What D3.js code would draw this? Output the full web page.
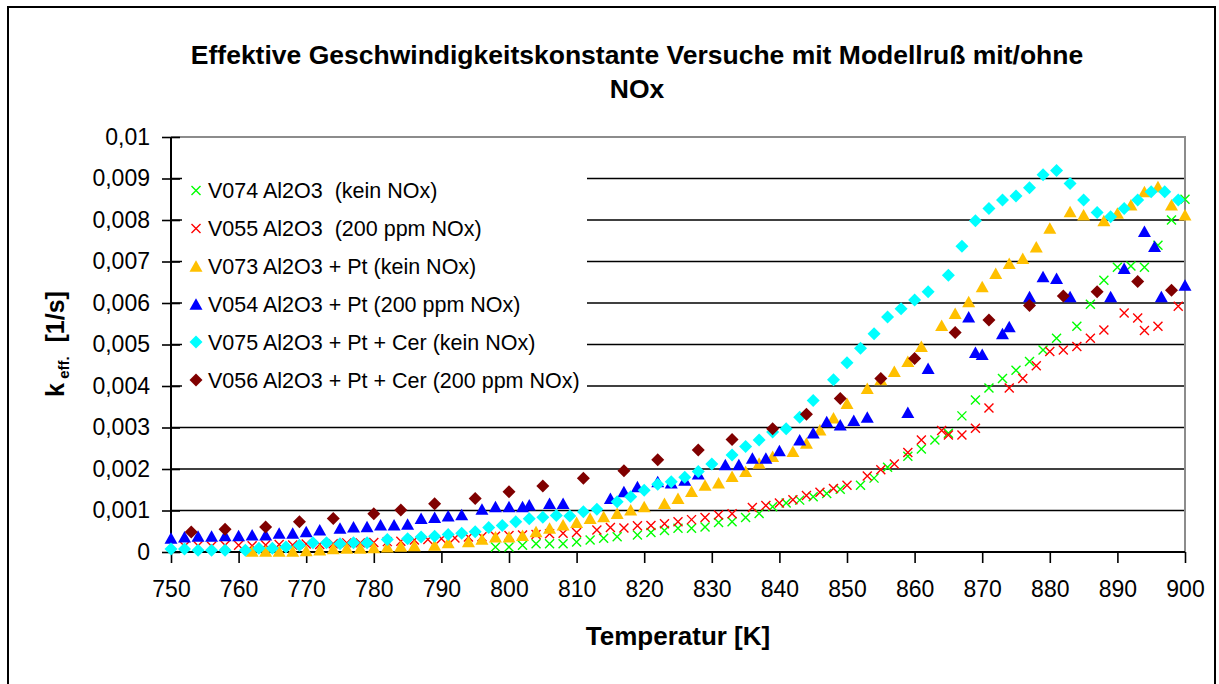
<!DOCTYPE html>
<html>
<head>
<meta charset="utf-8">
<script src="https://cdn.jsdelivr.net/npm/d3@7"></script>
<style>
  html, body { margin: 0; padding: 0; background: #fff; }
  svg { display: block; font-family: "Liberation Sans", Arial, sans-serif; }
</style>
</head>
<body>
<svg id="chart" width="1219" height="684"></svg>
<script>
// ---- data: temperature [K] and effective rate constant k_eff [1/s] per run ----
const v074T = [798,800,802,804,806,808,810,812,814,816,819,821,823,825,827,829,831,833,835,837,839,841,843,845,847,849,852,854,856,859,861,863,865,867,869,871,873,875,877,879,881,884,886,888,890,892,894,896,898,900];
const v074K = [0.00012,0.00012,0.00016,0.0002,0.0002,0.0002,0.00024,0.00029,0.00033,0.00037,0.00041,0.00047,0.00052,0.00057,0.00057,0.0006,0.00071,0.00073,0.00083,0.00093,0.00109,0.00118,0.00125,0.00133,0.00141,0.00151,0.00161,0.00178,0.00204,0.00231,0.00248,0.0027,0.00286,0.00328,0.00366,0.00395,0.00418,0.00438,0.00459,0.00487,0.00515,0.00544,0.00597,0.00655,0.00686,0.00689,0.00686,0.00739,0.008,0.0085];

const v055T = [752,754,756,758,760,762,764,766,768,770,772,774,776,778,780,782,784,786,788,790,792,794,796,798,800,802,804,806,808,810,813,815,817,819,821,823,825,827,829,831,833,836,838,840,842,844,846,848,850,853,855,857,859,861,864,865,867,869,871,874,876,878,880,882,884,886,888,891,893,894,896,899];
const v055K = [0.00014,0.00015,0.00014,0.00016,0.00016,0.00015,0.00017,0.00018,0.00017,0.00019,0.00018,0.0002,0.00022,0.00022,0.00023,0.00025,0.00026,0.00029,0.0003,0.00032,0.00034,0.00036,0.00037,0.00038,0.0004,0.00041,0.00042,0.00044,0.00045,0.00047,0.00053,0.00059,0.00058,0.00063,0.00064,0.00068,0.00073,0.00078,0.00083,0.00089,0.00092,0.00107,0.00112,0.00118,0.00126,0.00136,0.00144,0.00153,0.00161,0.00183,0.00198,0.00212,0.0024,0.0027,0.00293,0.00282,0.00282,0.00298,0.00347,0.00395,0.00418,0.00449,0.00483,0.00487,0.00495,0.00515,0.00535,0.00576,0.00564,0.00534,0.00544,0.00592];

const v073T = [762,764,766,768,770,772,774,776,778,780,782,784,786,789,791,794,796,798,800,802,804,806,808,810,812,814,816,818,820,823,825,827,829,831,833,835,837,839,842,844,846,848,850,853,855,857,859,861,864,866,868,870,872,874,876,878,880,883,885,888,890,892,894,896,898,900];
const v073K = [0.00002,0.00002,0.00002,0.00002,0.00003,0.00005,0.00008,0.00009,0.00009,0.0001,0.00012,0.00014,0.00015,0.00016,0.00022,0.00025,0.00031,0.00036,0.00036,0.0004,0.00049,0.00057,0.00065,0.00071,0.00081,0.00085,0.00093,0.00101,0.00109,0.00117,0.00129,0.00146,0.00161,0.00166,0.00182,0.00194,0.00214,0.0023,0.00242,0.00262,0.00294,0.00323,0.00358,0.00394,0.00415,0.00435,0.00459,0.00495,0.00546,0.00575,0.00603,0.00639,0.00671,0.00695,0.00707,0.00735,0.0078,0.0082,0.00812,0.00798,0.00816,0.00836,0.00868,0.0088,0.00836,0.00812];

const v054T = [750,752,754,756,758,760,762,764,766,768,770,772,775,777,779,781,783,785,787,789,791,793,796,798,800,802,803,806,808,815,817,819,822,824,826,828,832,834,836,838,840,843,845,847,849,851,853,859,862,868,869,870,873,874,877,879,881,883,889,891,894,895.5,896.5,900];
const v054K = [0.00033,0.00036,0.00038,0.00038,0.00039,0.00039,0.00041,0.00041,0.00045,0.00045,0.00049,0.00053,0.00057,0.0006,0.00061,0.00065,0.00065,0.00067,0.00081,0.00083,0.00087,0.0009,0.00103,0.00109,0.00109,0.00109,0.00113,0.00117,0.00117,0.00129,0.00145,0.00157,0.00169,0.00166,0.00173,0.00188,0.0021,0.0021,0.00226,0.00226,0.00244,0.0027,0.00287,0.00314,0.00306,0.00317,0.00325,0.00336,0.00442,0.00566,0.00481,0.00476,0.00526,0.00543,0.00615,0.00663,0.00659,0.00615,0.00615,0.00683,0.00772,0.00736,0.00615,0.00643];

const v075T = [750,752,754,756,758,761,763,765,767,769,771,773,775,777,779,782,785,787,789,791,793,795,797,799,801,803,805,807,809,811,813,816,818,820,822,824,826,828,830,833,835,837,839,841,843,845,848,850,852,854,856,858,860,862,865,867,869,871,873,875,877,879,881,883,885,887,889,891,893,895,897,899];
const v075K = [0.00007,0.00007,0.00004,0.00004,0.00004,0.00004,0.00009,0.00009,0.00012,0.00016,0.00022,0.00022,0.0002,0.00022,0.00022,0.0003,0.00032,0.00036,0.00038,0.00042,0.00045,0.00049,0.00059,0.00064,0.00073,0.0008,0.00084,0.00088,0.00087,0.00097,0.00103,0.00121,0.00133,0.00149,0.00163,0.00169,0.0018,0.00194,0.00212,0.00234,0.00254,0.0027,0.00289,0.00297,0.00325,0.00365,0.00415,0.00456,0.00491,0.00526,0.00566,0.00586,0.00607,0.00627,0.00667,0.00737,0.00798,0.00828,0.00848,0.00858,0.00878,0.00909,0.00919,0.00888,0.00848,0.00818,0.00808,0.00828,0.00848,0.00868,0.00868,0.00848];

const v056T = [753,758,764,769,774,780,784,789,795,800,805,811,817,822,828,833,839,844,849,855,860,866,871,877,882,887,893,898];
const v056K = [0.00048,0.00055,0.0006,0.00073,0.00081,0.00092,0.00101,0.00116,0.00129,0.00145,0.00159,0.00178,0.00196,0.00222,0.00246,0.00271,0.00297,0.00332,0.0037,0.00418,0.00466,0.00529,0.00559,0.00594,0.00617,0.00627,0.00652,0.00631];

const seriesNames = [
  "V074 Al2O3  (kein NOx)",
  "V055 Al2O3  (200 ppm NOx)",
  "V073 Al2O3 + Pt (kein NOx)",
  "V054 Al2O3 + Pt (200 ppm NOx)",
  "V075 Al2O3 + Pt + Cer (kein NOx)",
  "V056 Al2O3 + Pt + Cer (200 ppm NOx)"
];
const seriesColors = ["#00ff00", "#ff0000", "#ffc000", "#0000ff", "#00ffff", "#800000"];
const seriesShapes = ["cross", "cross", "triangle", "triangle", "diamond", "diamond"];
const seriesT = [v074T, v055T, v073T, v054T, v075T, v056T];
const seriesK = [v074K, v055K, v073K, v054K, v075K, v056K];

const xTicks = [750,760,770,780,790,800,810,820,830,840,850,860,870,880,890,900];
const yTicks = [0,0.001,0.002,0.003,0.004,0.005,0.006,0.007,0.008,0.009,0.01];

const titleLines = ["Effektive Geschwindigkeitskonstante Versuche mit Modellruß mit/ohne", "NOx"];
const xTitle = "Temperatur [K]";

// ---- layout ----
const svg = d3.select("#chart");
const plot = { left: 171, right: 1185, top: 137, bottom: 552 };
const x = d3.scaleLinear().domain([750, 900]).range([plot.left, plot.right]);
const y = d3.scaleLinear().domain([0, 0.01]).range([plot.bottom, plot.top]);

// outer chart frame
svg.append("rect")
  .attr("x", 8).attr("y", 7).attr("width", 1207).attr("height", 720)
  .attr("fill", "#fff").attr("stroke", "#000").attr("stroke-width", 2);

// horizontal gridlines
svg.append("g").selectAll("line")
  .data(yTicks.filter(v => v > 0 && v < 0.01))
  .join("line")
  .attr("x1", plot.left).attr("x2", plot.right)
  .attr("y1", d => y(d)).attr("y2", d => y(d))
  .attr("stroke", "#000").attr("stroke-width", 1.6);

// plot border (top / right in grey)
svg.append("path")
  .attr("d", `M${plot.left},${y(0.01)}H${plot.right}V${plot.bottom}`)
  .attr("fill", "none").attr("stroke", "#8c8c8c").attr("stroke-width", 2);

// y axis
const fmt = v => d3.format(".3~f")(v).replace(".", ",");
const yAxis = svg.append("g")
  .attr("transform", `translate(${plot.left},0)`)
  .call(d3.axisLeft(y).tickValues(yTicks).tickFormat(fmt).tickSize(8).tickPadding(12));
yAxis.selectAll(".tick line").attr("x2", -9).attr("x1", 9).attr("stroke", "#000").attr("stroke-width", 1.6);
yAxis.select(".domain").attr("stroke", "#000").attr("stroke-width", 2).attr("d", `M0,${plot.bottom}V${y(0.01)}`);
yAxis.selectAll("text").attr("font-size", 23).attr("font-family", "Liberation Sans, Arial, sans-serif").attr("fill", "#000").attr("x", -21);

// x axis
const xAxis = svg.append("g")
  .attr("transform", `translate(0,${plot.bottom})`)
  .call(d3.axisBottom(x).tickValues(xTicks).tickFormat(d3.format("d")).tickSize(11).tickPadding(18));
xAxis.select(".domain").attr("stroke", "#000").attr("stroke-width", 2).attr("d", `M${plot.left},0H${plot.right}`);
xAxis.selectAll(".tick line").attr("stroke", "#000").attr("stroke-width", 1.6);
xAxis.selectAll("text").attr("font-size", 23).attr("font-family", "Liberation Sans, Arial, sans-serif").attr("fill", "#000");

// marker shapes
const shapePath = {
  cross: "M-4.5,-4.5L4.5,4.5M-4.5,4.5L4.5,-4.5",
  triangle: "M0,-6L6.5,5.5L-6.5,5.5Z",
  diamond: "M0,-6.5L6.5,0L0,6.5L-6.5,0Z"
};
function styleMarker(sel, i) {
  const shape = seriesShapes[i];
  sel.attr("d", shapePath[shape]);
  if (shape === "cross") {
    sel.attr("fill", "none").attr("stroke", seriesColors[i]).attr("stroke-width", 1.4);
  } else {
    sel.attr("fill", seriesColors[i]).attr("stroke", "none");
  }
}

// series markers
seriesT.forEach((temps, i) => {
  const pts = temps.map((t, j) => ({ t, k: seriesK[i][j] }));
  svg.append("g").selectAll("path")
    .data(pts)
    .join("path")
    .attr("transform", d => `translate(${x(d.t)},${y(d.k)})`)
    .call(styleMarker, i);
});

// legend (opaque box over the gridlines)
const legend = svg.append("g");
legend.append("rect")
  .attr("x", 182).attr("y", 163).attr("width", 405).attr("height", 237)
  .attr("fill", "#fff");
seriesNames.forEach((name, i) => {
  const ly = 190.5 + i * 37.9;
  legend.append("path")
    .attr("transform", `translate(196,${ly})`)
    .call(styleMarker, i);
  legend.append("text")
    .attr("x", 208).attr("y", ly).attr("dy", "0.36em")
    .attr("font-size", 21.5).attr("fill", "#000")
    .style("white-space", "pre")
    .text(name);
});

// chart title
svg.append("g").selectAll("text")
  .data(titleLines)
  .join("text")
  .attr("x", 637).attr("y", (d, i) => 64 + i * 34)
  .attr("text-anchor", "middle")
  .attr("font-size", 26.5).attr("font-weight", "bold")
  .text(d => d);

// x axis title
svg.append("text")
  .attr("x", 678).attr("y", 645)
  .attr("text-anchor", "middle")
  .attr("font-size", 26).attr("font-weight", "bold")
  .text(xTitle);

// y axis title: k with subscript "eff."
const yTitle = svg.append("text")
  .attr("transform", "translate(64,344) rotate(-90)")
  .attr("text-anchor", "middle")
  .attr("font-weight", "bold").attr("font-size", 25);
yTitle.append("tspan").text("k");
yTitle.append("tspan").attr("font-size", 15).attr("dy", 5).text(" eff.");
yTitle.append("tspan").attr("dy", -5).style("white-space", "pre").text("  [1/s]");
</script>
</body>
</html>
